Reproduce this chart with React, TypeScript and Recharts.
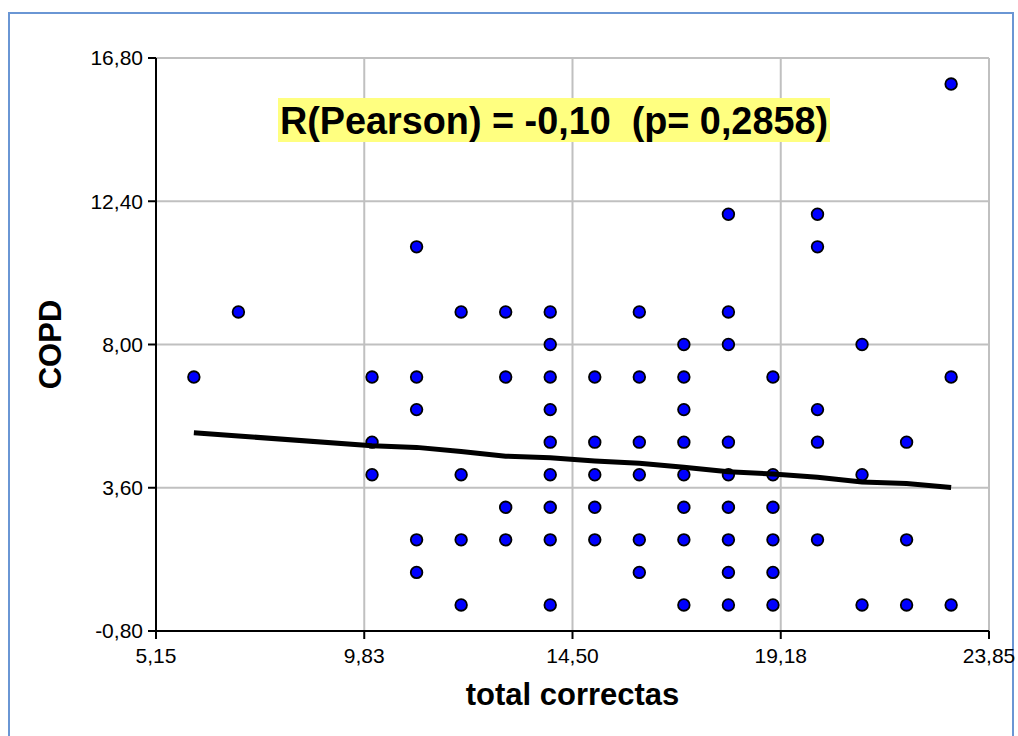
import { ScatterChart, Scatter, XAxis, YAxis, CartesianGrid, Label } from 'recharts';

// total correctas (x) / COPD (y), one entry per dot
const correctas = [
  6, 7,
  10, 10, 10,
  11, 11, 11, 11, 11,
  12, 12, 12, 12,
  13, 13, 13, 13,
  14, 14, 14, 14, 14, 14, 14, 14, 14,
  15, 15, 15, 15, 15,
  16, 16, 16, 16, 16, 16,
  17, 17, 17, 17, 17, 17, 17, 17,
  18, 18, 18, 18, 18, 18, 18, 18, 18,
  19, 19, 19, 19, 19, 19,
  20, 20, 20, 20, 20,
  21, 21, 21,
  22, 22, 22,
  23, 23, 23,
];
const copd = [
  7, 9,
  7, 5, 4,
  11, 7, 6, 2, 1,
  9, 4, 2, 0,
  9, 7, 3, 2,
  9, 8, 7, 6, 5, 4, 3, 2, 0,
  7, 5, 4, 3, 2,
  9, 7, 5, 4, 2, 1,
  8, 7, 6, 5, 4, 3, 2, 0,
  12, 9, 8, 5, 4, 3, 2, 1, 0,
  7, 4, 3, 2, 1, 0,
  12, 11, 6, 5, 2,
  8, 4, 0,
  5, 2, 0,
  16, 7, 0,
];

// fitted line
const trendX = [6, 7, 10, 11, 12, 13, 14, 15, 16, 17, 18, 19, 20, 21, 22, 23];
const trendY = [5.29, 5.19, 4.89, 4.84, 4.71, 4.57, 4.52, 4.42, 4.35, 4.23, 4.09, 4.02, 3.92, 3.78, 3.73, 3.61];

const xTicks = [5.15, 9.825, 14.5, 19.175, 23.85];
const xTickLabels = ['5,15', '9,83', '14,50', '19,18', '23,85'];
const yTicks = [-0.8, 3.6, 8, 12.4, 16.8];
const yTickLabels = ['-0,80', '3,60', '8,00', '12,40', '16,80'];

const pearsonText = 'R(Pearson) = -0,10  (p= 0,2858)';

const FONT = 'Arial, "Liberation Sans", Helvetica, sans-serif';

const points = correctas.map((x, i) => ({ x, y: copd[i] }));
const trend = trendX.map((x, i) => ({ x, y: trendY[i] }));

function Dot(props: any) {
  const { cx, cy } = props;
  if (cx == null || cy == null) return <g />;
  return <circle cx={cx} cy={cy} r={5.8} fill="#0000ff" stroke="#000" strokeWidth={1.8} />;
}

const renderYTitle = (props: any) => {
  const vb = props.viewBox || { x: 6, y: 58, width: 150, height: 573 };
  const cx = vb.x + 43.5;
  const cy = vb.y + vb.height / 2;
  return (
    <text x={cx} y={cy} dy="0.36em" transform={`rotate(-90, ${cx}, ${cy})`} textAnchor="middle"
      fontFamily={FONT} fontWeight="bold" fontSize={31} fill="#000">
      COPD
    </text>
  );
};

const renderXTitle = (props: any) => {
  const vb = props.viewBox || { x: 156, y: 631, width: 833, height: 80 };
  return (
    <text x={vb.x + vb.width / 2} y={vb.y + 74} textAnchor="middle"
      fontFamily={FONT} fontWeight="bold" fontSize={31} fill="#000">
      total correctas
    </text>
  );
};

export default function App() {
  return (
    <div style={{ position: 'fixed', left: 0, top: 0, width: 1018, height: 736, overflow: 'hidden', background: '#fff' }}>
      <div style={{ position: 'absolute', left: 8, top: 12, width: 1002, height: 740, border: '2px solid #6a96d4' }} />
      <div style={{ position: 'absolute', left: 0, top: 0 }}>
        <ScatterChart width={1018} height={736} margin={{ top: 58, right: 29, bottom: 25, left: 6 }}>
          <CartesianGrid stroke="#c0c0c0" strokeWidth={2} />
          <XAxis
            type="number"
            dataKey="x"
            domain={[5.15, 23.85]}
            ticks={xTicks}
            allowDataOverflow
            height={80}
            tickSize={8}
            tickMargin={9}
            axisLine={{ stroke: '#000', strokeWidth: 2 }}
            tickLine={{ stroke: '#000', strokeWidth: 2 }}
            tick={{ fill: '#000', fontSize: 21, fontFamily: FONT }}
            tickFormatter={(v: number) => xTickLabels[xTicks.indexOf(v)] ?? String(v)}
          >
            <Label content={renderXTitle} />
          </XAxis>
          <YAxis
            type="number"
            dataKey="y"
            domain={[-0.8, 16.8]}
            ticks={yTicks}
            allowDataOverflow
            width={150}
            tickSize={8}
            tickMargin={5}
            axisLine={{ stroke: '#000', strokeWidth: 2 }}
            tickLine={{ stroke: '#000', strokeWidth: 2 }}
            tick={{ fill: '#000', fontSize: 21, fontFamily: FONT }}
            tickFormatter={(v: number) => yTickLabels[yTicks.indexOf(v)] ?? String(v)}
          >
            <Label content={renderYTitle} />
          </YAxis>
          <Scatter data={points} shape={<Dot />} isAnimationActive={false} />
          <Scatter
            data={trend}
            line={{ stroke: '#000', strokeWidth: 5 }}
            lineType="joint"
            shape={() => <g />}
            isAnimationActive={false}
          />
        </ScatterChart>
      </div>
      <svg width={1018} height={736} style={{ position: 'absolute', left: 0, top: 0, pointerEvents: 'none' }}>
        <rect x={278} y={98} width={552} height={44} fill="#ffff80" />
        <text x={280} y={134} fontFamily={FONT} fontWeight="bold" fontSize={38} fill="#000"
          textLength={548} lengthAdjust="spacingAndGlyphs" xmlSpace="preserve" style={{ whiteSpace: 'pre' }}>
          {pearsonText}
        </text>
      </svg>
    </div>
  );
}
